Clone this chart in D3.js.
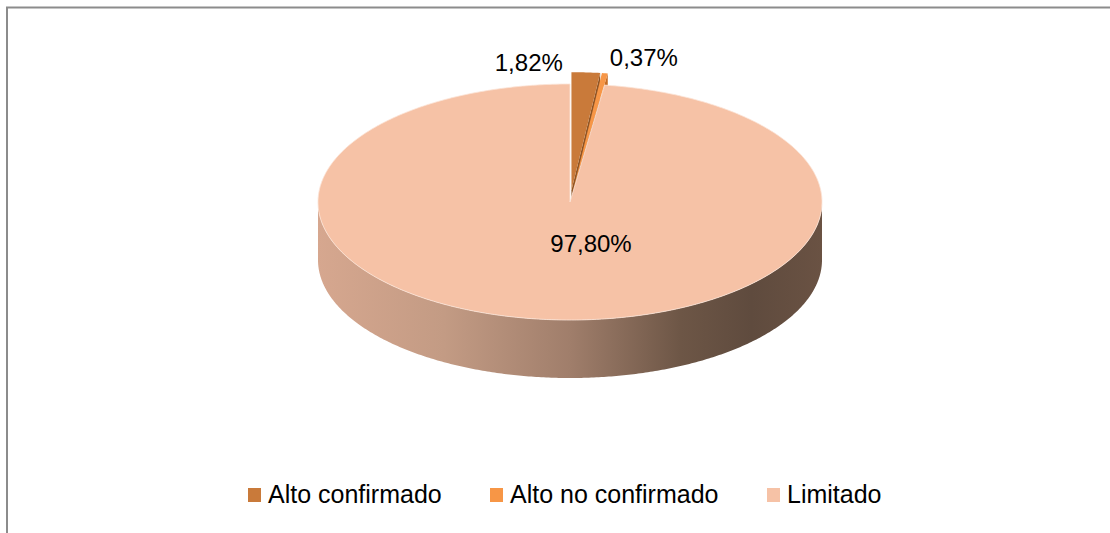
<!DOCTYPE html>
<html>
<head>
<meta charset="utf-8">
<script src="https://cdn.jsdelivr.net/npm/d3@7"></script>
<style>
  body { margin: 0; background: #fff; }
  svg text { font-family: "Liberation Sans", Arial, sans-serif; fill: #000; }
</style>
</head>
<body>
<div id="chart"></div>
<script>
// data
const categories = ["Alto confirmado", "Alto no confirmado", "Limitado"];
const values = [1.82, 0.37, 97.80];
const valueLabels = ["1,82%", "0,37%", "97,80%"];

const width = 1110, height = 533;

const svg = d3.select("#chart")
    .append("svg")
    .attr("width", width)
    .attr("height", height);

// chart frame (right and bottom edges fall outside the window)
svg.append("rect")
    .attr("x", 7).attr("y", 7.5)
    .attr("width", width + 20).attr("height", height + 20)
    .attr("fill", "none")
    .attr("stroke", "#8c8c8c")
    .attr("stroke-width", 2);

// pie geometry (3d look: ellipse top + extruded side)
const cx = 570, cy = 202, rx = 252, ry = 118, depth = 58;
const explode = 0.1; // only the two small slices are pulled out

const color = d3.scaleOrdinal()
    .domain(categories)
    .range(["#c97a3a", "#f79646", "#f6c2a6"]);
const wallColor = d3.scaleOrdinal()
    .domain(categories)
    .range(["#8f5424", "#c46a22", "#b08a75"]);

const pie = d3.pie()
    .sort(null)
    .value(d => d.value);

const data = categories.map((c, i) => ({ name: c, value: values[i], label: valueLabels[i] }));
const arcs = pie(data);

const line = d3.line();

function offsetOf(d) {
    if (d.data.name === "Limitado") return [0, 0];
    const mid = (d.startAngle + d.endAngle) / 2;
    return [explode * rx * Math.sin(mid), -explode * ry * Math.cos(mid)];
}
function pt(a, off, dy = 0) {
    return [cx + off[0] + rx * Math.sin(a), cy + off[1] - ry * Math.cos(a) + dy];
}
function arcPts(a0, a1, off, dy = 0) {
    const n = Math.max(2, Math.ceil((a1 - a0) / 0.01));
    return d3.range(n + 1).map(i => pt(a0 + (a1 - a0) * i / n, off, dy));
}

// side gradient
const defs = svg.append("defs");
const grad = defs.append("linearGradient")
    .attr("id", "sideGrad")
    .attr("gradientUnits", "userSpaceOnUse")
    .attr("x1", cx - rx).attr("x2", cx + rx)
    .attr("y1", 0).attr("y2", 0);
[[0, "#d6a78f"], [0.25, "#c39b84"], [0.5, "#a07e6b"], [0.72, "#6d5646"], [0.86, "#5f4b3e"], [1, "#6a5243"]]
    .forEach(([o, c]) => grad.append("stop").attr("offset", o).attr("stop-color", c));

const small = arcs.filter(d => d.data.name !== "Limitado");
const big = arcs.filter(d => d.data.name === "Limitado");

// small slices (behind): cut wall on the clockwise side, then top face
small.forEach(d => {
    const off = offsetOf(d);
    const c0 = [cx + off[0], cy + off[1]];
    const e = pt(d.endAngle, off);
    svg.append("path")
        .attr("d", line([c0, e, [e[0], e[1] + depth], [c0[0], c0[1] + depth]]) + "Z")
        .attr("fill", wallColor(d.data.name));
    svg.append("path")
        .attr("d", line([c0, ...arcPts(d.startAngle, d.endAngle, off)]) + "Z")
        .attr("fill", color(d.data.name));
});

// big slice: front side then top
big.forEach(d => {
    const off = offsetOf(d);
    const a0 = Math.max(d.startAngle, Math.PI / 2);
    const a1 = Math.min(d.endAngle, 3 * Math.PI / 2);
    const topEdge = arcPts(a0, a1, off);
    const bottomEdge = arcPts(a0, a1, off, depth).reverse();
    svg.append("path")
        .attr("d", line([...topEdge, ...bottomEdge]) + "Z")
        .attr("fill", "url(#sideGrad)");
    svg.append("path")
        .attr("d", line([[cx, cy], ...arcPts(d.startAngle, d.endAngle, off)]) + "Z")
        .attr("fill", color(d.data.name))
        .attr("stroke", "#fbe4d8")
        .attr("stroke-width", 0.8);
});

// value labels
arcs.forEach((d, i) => {
    const off = offsetOf(d);
    const mid = (d.startAngle + d.endAngle) / 2;
    let x, y, anchor;
    if (i === 0) {
        const p = pt(mid, off);
        x = p[0] - 23; y = p[1] - 1; anchor = "end";
    } else if (i === 1) {
        const p = pt(mid, off);
        x = p[0] + 5; y = p[1] - 7; anchor = "start";
    } else {
        x = cx + 21; y = cy + 50; anchor = "middle";
    }
    svg.append("text")
        .attr("x", x).attr("y", y)
        .attr("text-anchor", anchor)
        .attr("font-size", 24)
        .text(d.data.label);
});

// legend
const legendX = [248, 490, 767];
const legend = svg.append("g")
    .selectAll("g")
    .data(categories)
    .join("g")
    .attr("transform", (d, i) => `translate(${legendX[i]}, 488)`);
legend.append("rect")
    .attr("width", 13).attr("height", 14)
    .attr("fill", d => color(d));
legend.append("text")
    .attr("x", 20).attr("y", 15)
    .attr("font-size", 25)
    .text(d => d);
</script>
</body>
</html>
